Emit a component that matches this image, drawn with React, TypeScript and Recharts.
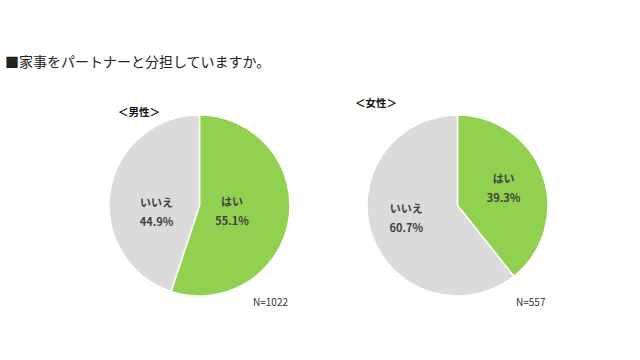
import { PieChart, Pie, Cell } from "recharts";

// answer categories and share (%) per group
const categories = ["はい", "いいえ"];
const maleValues = [55.1, 44.9];
const femaleValues = [39.3, 60.7];
const sampleSizes = ["N=1022", "N=557"];
const groupTitles = ["＜男性＞", "＜女性＞"];

const colors = ["#92D050", "#DBDBDB"];
const font = "'Noto Sans CJK JP', 'Noto Sans', sans-serif";

const maleData = categories.map((name, i) => ({ name, value: maleValues[i] }));
const femaleData = categories.map((name, i) => ({ name, value: femaleValues[i] }));

// where the in-slice label sits: fraction of radius along the mid angle, plus a vertical nudge
const maleLabelPos = [
  { r: 0.365, dy: 0 },
  { r: 0.48, dy: 12.5 },
];
const femaleLabelPos = [
  { r: 0.54, dy: -2 },
  { r: 0.6, dy: -6 },
];

const RAD = Math.PI / 180;

function makeLabel(pos: { r: number; dy: number }[]) {
  return (props: any) => {
    const { cx, cy, midAngle, outerRadius, index, name, value } = props;
    const p = pos[index];
    const x = cx + outerRadius * p.r * Math.cos(-midAngle * RAD);
    const y = cy + outerRadius * p.r * Math.sin(-midAngle * RAD) + p.dy;
    return (
      <text
        x={x}
        y={y}
        textAnchor="middle"
        fill="#404040"
        fontSize={11}
        fontWeight="bold"
        fontFamily={font}
      >
        <tspan x={x} y={y - 9.5} dominantBaseline="central">
          {name}
        </tspan>
        <tspan x={x} y={y + 9.5} dominantBaseline="central">
          {value.toFixed(1)}%
        </tspan>
      </text>
    );
  };
}

export default function App() {
  return (
    <div style={{ position: "relative", width: 640, height: 360, background: "#fff", fontFamily: font }}>
      <style>{`body{margin:0}`}</style>
      <div style={{ position: "absolute", left: 5, top: 51, fontSize: 14, color: "#222", whiteSpace: "nowrap" }}>
        ■家事をパートナーと分担していますか。
      </div>
      <div style={{ position: "absolute", left: 118, top: 103.5, fontSize: 10.5, fontWeight: "bold", color: "#111" }}>
        {groupTitles[0]}
      </div>
      <div style={{ position: "absolute", left: 355, top: 95, fontSize: 10.5, fontWeight: "bold", color: "#111" }}>
        {groupTitles[1]}
      </div>
      <div style={{ position: "absolute", left: 253, top: 294, fontSize: 10, color: "#333" }}>
        {sampleSizes[0]}
      </div>
      <div style={{ position: "absolute", left: 516, top: 294, fontSize: 10, color: "#333" }}>
        {sampleSizes[1]}
      </div>
      <div style={{ position: "absolute", left: 0, top: 0 }}>
        <PieChart width={640} height={360} margin={{ top: 0, right: 0, bottom: 0, left: 0 }}>
          <Pie
            data={maleData}
            dataKey="value"
            nameKey="name"
            cx={199.5}
            cy={205.5}
            outerRadius={90.5}
            startAngle={90}
            endAngle={-270}
            stroke="#fff"
            strokeWidth={1.5}
            labelLine={false}
            label={makeLabel(maleLabelPos)}
            isAnimationActive={false}
          >
            {maleData.map((d, i) => (
              <Cell key={d.name} fill={colors[i]} />
            ))}
          </Pie>
          <Pie
            data={femaleData}
            dataKey="value"
            nameKey="name"
            cx={457.5}
            cy={205.5}
            outerRadius={90.5}
            startAngle={90}
            endAngle={-270}
            stroke="#fff"
            strokeWidth={1.5}
            labelLine={false}
            label={makeLabel(femaleLabelPos)}
            isAnimationActive={false}
          >
            {femaleData.map((d, i) => (
              <Cell key={d.name} fill={colors[i]} />
            ))}
          </Pie>
        </PieChart>
      </div>
    </div>
  );
}
